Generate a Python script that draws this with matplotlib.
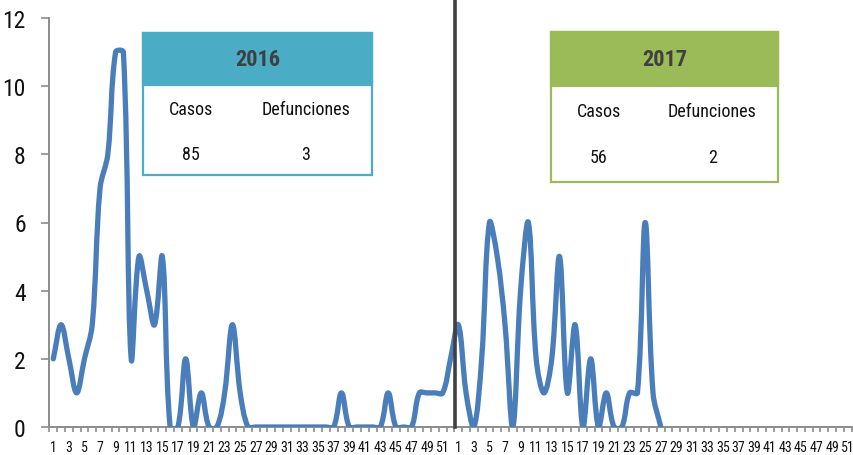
import matplotlib
matplotlib.use("Agg")
import matplotlib.pyplot as plt
from matplotlib.path import Path
from matplotlib.patches import PathPatch, Rectangle
import numpy as np

plt.rcParams['font.family'] = ['Roboto Condensed', 'Liberation Sans Narrow', 'Liberation Sans', 'DejaVu Sans']

# weekly cases, 2016 (weeks 1-52) and 2017 (weeks 1-27)
cases_2016 = [2, 3, 2, 1, 2, 3, 7, 8, 11, 11, 2, 5, 4, 3, 5, 0, 0, 2, 0, 1,
              0, 0, 1, 3, 1, 0, 0, 0, 0, 0, 0, 0, 0, 0, 0, 0, 0, 1, 0, 0,
              0, 0, 0, 1, 0, 0, 0, 1, 1, 1, 1, 2]
cases_2017 = [3, 1, 0, 2, 6, 5, 3, 0, 4, 6, 2, 1, 2, 5, 1, 3, 0, 2, 0, 1,
              0, 0, 1, 1, 6, 1, 0]
weeks = list(range(1, 53))
week_labels = [str(w) if w % 2 == 1 else "" for w in weeks] * 2

summary_years = ["2016", "2017"]
summary_casos = [85, 56]
summary_defunciones = [3, 2]

W, H = 854, 456
fig = plt.figure(figsize=(W / 100, H / 100), dpi=100)
ax = fig.add_axes([49.4 / W, (H - 428) / H, 810 / W, 409 / H])
ax.set_xlim(-0.5, 103.5)
ax.set_ylim(0, 12)

# smoothed line like excel: bezier handles scaled by segment length (screen space)
vals = cases_2016 + cases_2017
xs = np.arange(len(vals), dtype=float)
ys = np.array(vals, dtype=float)
sx, sy = 7.79, 34.08  # px per unit, for handle lengths
P = np.column_stack([xs * sx, ys * sy])
n = len(P)
verts = [(xs[0], ys[0])]
codes = [Path.MOVETO]
for i in range(n - 1):
    p0 = P[max(i - 1, 0)]
    p1 = P[i]
    p2 = P[i + 1]
    p3 = P[min(i + 2, n - 1)]
    d01 = np.hypot(*(p1 - p0))
    d12 = np.hypot(*(p2 - p1))
    d23 = np.hypot(*(p3 - p2))
    c1 = p1 + (p2 - p0) * 0.36 * d12 / max(d01 + d12, 1e-9)
    c2 = p2 - (p3 - p1) * 0.36 * d12 / max(d12 + d23, 1e-9)
    for c in (c1, c2, p2):
        verts.append((c[0] / sx, c[1] / sy))
    codes += [Path.CURVE4] * 3
ax.add_patch(PathPatch(Path(verts, codes), fill=False, edgecolor="#4a7ebb",
                       linewidth=3.8, capstyle="round", joinstyle="round", zorder=3))

# divider between years
ax.plot([51.62, 51.62], [0, 12.5], color="#404040", linewidth=2.6,
        clip_on=False, zorder=4)

ax.set_yticks(range(0, 13, 2))
ax.set_xticks(range(104))
ax.set_xticklabels(week_labels)
ax.set_xticks(np.arange(104) - 0.5, minor=True)
ax.tick_params(axis="x", which="major", length=0, pad=9.5, labelsize=10,
               colors="#111111")
ax.tick_params(axis="x", which="minor", length=3.5, width=1.2, color="#8c8c8c")
ax.tick_params(axis="y", length=6, width=1.2, color="#8c8c8c", pad=11,
               labelsize=17, labelcolor="#111111")
for s in ["top", "right"]:
    ax.spines[s].set_visible(False)
for s in ["left", "bottom"]:
    ax.spines[s].set_color("#8c8c8c")
    ax.spines[s].set_linewidth(1.4)


def px(x, y):
    return x / W, 1 - y / H


def summary_box(x0, x1, y0, y1, yh, color, year, casos, defun, ty1, ty2):
    fig.patches.append(Rectangle(px(x0, y1), (x1 - x0) / W, (y1 - y0) / H,
                                 transform=fig.transFigure, facecolor="white",
                                 edgecolor=color, linewidth=1.6, zorder=5))
    fig.patches.append(Rectangle(px(x0, yh), (x1 - x0) / W, (yh - y0) / H,
                                 transform=fig.transFigure, facecolor=color,
                                 edgecolor=color, linewidth=1.6, zorder=6))
    cx = (x0 + x1) / 2
    left = x0 + (x1 - x0) * 0.21
    right = x0 + (x1 - x0) * 0.71
    fig.text(*px(cx, (y0 + yh) / 2), year, ha="center", va="center",
             fontsize=16, fontweight="bold", color="#404040", zorder=7)
    fig.text(*px(left, ty1), "Casos", ha="center", va="center",
             fontsize=13, color="#111111", zorder=7)
    fig.text(*px(right, ty1), "Defunciones", ha="center", va="center",
             fontsize=13, color="#111111", zorder=7)
    fig.text(*px(left, ty2), str(casos), ha="center", va="center",
             fontsize=13, color="#111111", zorder=7)
    fig.text(*px(right, ty2), str(defun), ha="center", va="center",
             fontsize=13, color="#111111", zorder=7)


summary_box(143, 372, 34, 176, 86, "#4bacc6", summary_years[0],
            summary_casos[0], summary_defunciones[0], 110, 155)
summary_box(551, 778, 33, 183, 87, "#9bbb59", summary_years[1],
            summary_casos[1], summary_defunciones[1], 112, 158)

fig.savefig("out.png", dpi=100)
